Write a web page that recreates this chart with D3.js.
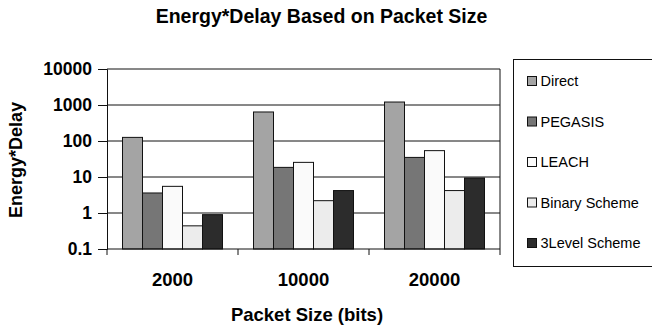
<!DOCTYPE html>
<html>
<head>
<meta charset="utf-8">
<script src="https://cdn.jsdelivr.net/npm/d3@7"></script>
<style>
  body { margin: 0; background: #fff; }
  svg { display: block; font-family: "Liberation Sans", Arial, sans-serif; }
</style>
</head>
<body>
<div id="chart"></div>
<script>
// data
var packetSizes = ["2000", "10000", "20000"];
var seriesNames = ["Direct", "PEGASIS", "LEACH", "Binary Scheme", "3Level Scheme"];
var direct   = [126, 640, 1210];
var pegasis  = [3.6, 18.5, 35];
var leach    = [5.5, 25.5, 54];
var binary   = [0.44, 2.2, 4.2];
var level3   = [0.9, 4.2, 9.4];
var yTicks   = [0.1, 1, 10, 100, 1000, 10000];
var seriesColors = ["#a4a4a4", "#767676", "#fafafa", "#ececec", "#2c2c2c"];

var allSeries = [direct, pegasis, leach, binary, level3];

var width = 652, height = 328;
var margin = {top: 69, left: 107, right: 152, bottom: 79};

var svg = d3.select('#chart').append('svg')
    .attr('width', width)
    .attr('height', height);

var x0 = d3.scaleBand()
    .domain(packetSizes)
    .range([margin.left, width - margin.right])
    .padding(0);

var x1 = d3.scaleBand()
    .domain(seriesNames)
    .range([0, x0.bandwidth()])
    .paddingInner(0)
    .paddingOuter(0.775);

var y = d3.scaleLog()
    .domain([0.1, 10000])
    .range([height - margin.bottom, margin.top]);

// gridlines
svg.append('g')
  .selectAll('line')
  .data(yTicks.slice(1))
  .join('line')
    .attr('x1', margin.left)
    .attr('x2', width - margin.right)
    .attr('y1', function(d) { return y(d); })
    .attr('y2', function(d) { return y(d); })
    .attr('stroke', '#111')
    .attr('stroke-width', 1);

// right border
svg.append('line')
    .attr('x1', width - margin.right).attr('x2', width - margin.right)
    .attr('y1', y(10000)).attr('y2', y(0.1))
    .attr('stroke', '#111');

// bars
var groups = svg.append('g')
  .selectAll('g')
  .data(packetSizes)
  .join('g')
    .attr('transform', function(d) { return 'translate(' + x0(d) + ',0)'; });

groups.selectAll('rect')
  .data(function(d, i) {
    return seriesNames.map(function(s, j) { return {name: s, value: allSeries[j][i], color: seriesColors[j]}; });
  })
  .join('rect')
    .attr('x', function(d) { return x1(d.name); })
    .attr('width', x1.bandwidth())
    .attr('y', function(d) { return y(d.value); })
    .attr('height', function(d) { return y(0.1) - y(d.value); })
    .attr('fill', function(d) { return d.color; })
    .attr('stroke', '#111')
    .attr('stroke-width', 1);

// y axis
var yAxis = svg.append('g')
    .attr('transform', 'translate(' + margin.left + ',0)')
    .call(d3.axisLeft(y)
      .tickValues(yTicks)
      .tickFormat(function(d) { return d < 1 ? '0.1' : d3.format('d')(d); })
      .tickSize(9)
      .tickPadding(6));
yAxis.selectAll('text')
    .attr('font-size', '17.5px')
    .attr('font-weight', 'bold')
    .attr('fill', '#000');
yAxis.select('.domain').attr('stroke', '#111');
yAxis.selectAll('.tick line').attr('stroke', '#111');

// x axis: ticks on category boundaries
var xAxisG = svg.append('g')
    .attr('transform', 'translate(0,' + y(0.1) + ')');
xAxisG.append('line')
    .attr('x1', margin.left).attr('x2', width - margin.right)
    .attr('stroke', '#111');
var bounds = packetSizes.map(function(d) { return x0(d); }).concat([x0.range()[1]]);
xAxisG.selectAll('.xtick')
  .data(bounds)
  .join('line')
    .attr('class', 'xtick')
    .attr('x1', function(d) { return d; })
    .attr('x2', function(d) { return d; })
    .attr('y1', 0)
    .attr('y2', 6)
    .attr('stroke', '#111');
xAxisG.selectAll('text')
  .data(packetSizes)
  .join('text')
    .attr('x', function(d) { return x0(d) + x0.bandwidth() / 2; })
    .attr('y', 37)
    .attr('text-anchor', 'middle')
    .attr('font-size', '18.5px')
    .attr('font-weight', 'bold')
    .text(function(d) { return d; });

// titles
svg.append('text')
    .attr('x', 321.5)
    .attr('y', 23)
    .attr('text-anchor', 'middle')
    .attr('font-size', '19.5px')
    .attr('font-weight', 'bold')
    .text('Energy*Delay Based on Packet Size');

svg.append('text')
    .attr('x', 307)
    .attr('y', 321)
    .attr('text-anchor', 'middle')
    .attr('font-size', '18.5px')
    .attr('font-weight', 'bold')
    .text('Packet Size (bits)');

svg.append('text')
    .attr('transform', 'translate(22,160) rotate(-90)')
    .attr('text-anchor', 'middle')
    .attr('font-size', '18px')
    .attr('font-weight', 'bold')
    .text('Energy*Delay');

// legend
var legend = svg.append('g');
legend.append('rect')
    .attr('x', 513.5)
    .attr('y', 59.5)
    .attr('width', 140)
    .attr('height', 207)
    .attr('fill', 'none')
    .attr('stroke', '#111');

var items = legend.selectAll('.item')
  .data(seriesNames)
  .join('g')
    .attr('class', 'item')
    .attr('transform', function(d, i) { return 'translate(527,' + (86 + i * 40.5) + ')'; });
items.append('rect')
    .attr('x', 0.5)
    .attr('y', -9.5)
    .attr('width', 9)
    .attr('height', 9)
    .attr('fill', function(d, i) { return seriesColors[i]; })
    .attr('stroke', '#111');
items.append('text')
    .attr('x', 13.5)
    .attr('y', 0)
    .attr('font-size', '14.5px')
    .text(function(d) { return d; });
</script>
</body>
</html>
